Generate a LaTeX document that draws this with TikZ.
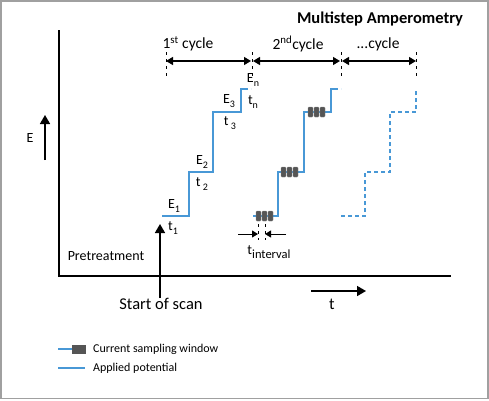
\documentclass[tikz,border=0pt]{standalone}
\usepackage{fontspec}
\setmainfont{Carlito}
\usetikzlibrary{arrows.meta}
\definecolor{potblue}{RGB}{72,152,214}
\definecolor{winfill}{RGB}{85,85,85}
\definecolor{framegray}{RGB}{160,160,160}
\newcommand{\lowsub}[2][10]{\raisebox{-0.28em}{\fontsize{#1}{#1}\selectfont #2}}

\begin{document}
\begin{tikzpicture}[x=1pt, y=-1pt,
    pot/.style={potblue, line width=1.5pt},
    potdash/.style={potblue, line width=1.5pt, dash pattern=on 4pt off 3pt},
    win/.style={fill=winfill, draw=winfill!70, line width=0.4pt, rounded corners=0.8pt},
    tick/.style={black, line width=0.7pt, dash pattern=on 3pt off 4pt},
    bigarrow/.style={-{Triangle[length=9pt, width=10pt]}, line width=1.6pt},
    cyc/.style={{Triangle[length=7pt, width=8pt]}-{Triangle[length=7pt, width=8pt]}, line width=1.2pt},
    lbl/.style={font=\fontsize{14}{16}\selectfont, inner sep=0pt},
    biglbl/.style={font=\fontsize{16.5}{19}\selectfont, inner sep=0pt},
    cyclbl/.style={font=\fontsize{15.5}{18}\selectfont, inner sep=0pt},
    leg/.style={font=\fontsize{12}{14}\selectfont, inner sep=0pt, anchor=west}]
  \useasboundingbox (0,0) rectangle (489,400);
  % frame
  \draw[framegray, line width=1.5pt] (1,1) rectangle (488,398.5);

  % axes
  \draw[line width=1.8pt] (59,30) -- (59,276) -- (451,276);
  \coordinate (eFoot) at (45,160);
  \coordinate (eTip) at (45,115);
  \draw[bigarrow] (eFoot) -- (eTip);
  \node[lbl] (eLbl) at (30,138) {E};
  \coordinate (tFoot) at (311,291);
  \coordinate (tTip) at (366,291);
  \draw[bigarrow] (tFoot) -- (tTip);
  \node[biglbl] (tLbl) at (332,304) {t};

  % start of scan
  \coordinate (scanFoot) at (160,298);
  \coordinate (scanTip) at (160,224);
  \draw[bigarrow] (scanFoot) -- (scanTip);
  \node[biglbl] (scanLbl) at (161,304) {Start of scan};
  \node[lbl] (pretreat) at (106,256) {Pretreatment};

  % title and cycles
  \node[font=\fontsize{16.5}{19}\selectfont\bfseries, inner sep=0pt] (title) at (380,19) {Multistep Amperometry};
  \node[cyclbl] (cyc1) at (188,44) {1\textsuperscript{st} cycle};
  \node[cyclbl] (cyc2) at (298,44) {2\textsuperscript{nd}cycle};
  \node[cyclbl] (cyc3) at (378,44) {...cycle};
  \foreach \cx [count=\k from 0] in {166,252,341,416}{
    \coordinate (b\k) at (\cx,61);
    \draw[tick] (\cx,52) -- (\cx,76);
  }
  \draw[cyc] (b0) -- ([xshift=-1pt]b1);
  \draw[cyc] ([xshift=1pt]b1) -- ([xshift=-1pt]b2);
  \draw[cyc] ([xshift=1pt]b2) -- (b3);

  % 1st cycle staircase
  \draw[pot] (162,216) -| (189,172) -| (213,112) -| (241,89) -- (244,89);
  \draw[potdash] (244,89) -- (251,89);
  \node[lbl] (e1) at (174,206) {E\lowsub{1}};
  \node[lbl] (t1) at (173,228) {t\lowsub{1}};
  \node[lbl] (e2) at (202,162) {E\lowsub{2}};
  \node[lbl] (t2) at (202,184) {t\,\lowsub{2}};
  \node[lbl] (e3) at (229,101) {E\lowsub{3}};
  \node[lbl] (t3) at (230,123) {t\,\lowsub{3}};
  \node[lbl] (en) at (253,80) {E\lowsub{n}};
  \node[lbl] (tn) at (253,102) {t\lowsub{n}};

  % 2nd cycle staircase with sampling windows
  \draw[pot] (253,216) -| (278,172) -| (304,112) -| (331,89) -- (334,89);
  \draw[potdash] (334,89) -- (341,89);
  \foreach \sx/\sy in {256/216, 281/172, 308/112}{
    \foreach \n in {0,1,2}
      \draw[win] ({\sx+\n*6},{\sy-5}) rectangle ({\sx+\n*6+5},{\sy+5});
  }

  % interval between windows
  \coordinate (iL) at (258,234);
  \coordinate (iR) at (265,234);
  \draw[tick] (iL) ++(0,-10) -- ++(0,16);
  \draw[tick] (iR) ++(0,-10) -- ++(0,16);
  \draw[-{Triangle[length=6pt, width=7pt]}, line width=1pt] (238,234) -- (iL);
  \draw[-{Triangle[length=6pt, width=7pt]}, line width=1pt] (286,234) -- (iR);
  \node[lbl] (tint) at (269,252) {t\lowsub[12.5]{interval}};

  % further cycles
  \draw[potdash] (341,216) -| (365,172) -| (390,112) -| (416,89);

  % legend
  \draw[pot] (58,349) -- (72,349);
  \draw[fill=winfill, draw=winfill] (72,345) rectangle (85,353);
  \node[leg] (legWin) at (93,349) {Current sampling window};
  \draw[pot] (58,368) -- (85,368);
  \node[leg] (legPot) at (93,368) {Applied potential};
\end{tikzpicture}
\end{document}
